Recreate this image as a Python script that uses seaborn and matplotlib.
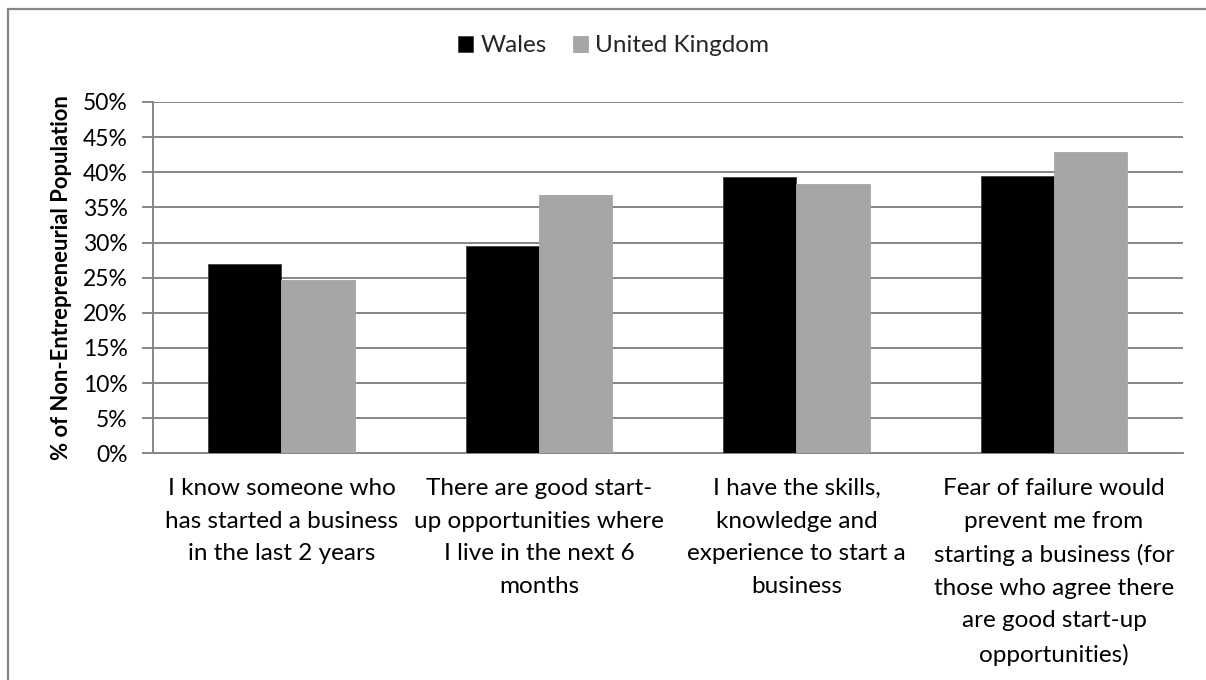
import matplotlib
matplotlib.use("Agg")
import matplotlib.pyplot as plt
from matplotlib.patches import Rectangle
from matplotlib.ticker import PercentFormatter
import seaborn as sns
import pandas as pd

# Survey categories and the share of the non-entrepreneurial population (%)
categories = [
    "I know someone who\nhas started a business\nin the last 2 years",
    "There are good start-\nup opportunities where\nI live in the next 6\nmonths",
    "I have the skills,\nknowledge and\nexperience to start a\nbusiness",
    "Fear of failure would\nprevent me from\nstarting a business (for\nthose who agree there\nare good start-up\nopportunities)",
]
series = ["Wales", "United Kingdom"]
wales = [27.0, 29.5, 39.3, 39.4]
uk = [24.7, 36.7, 38.4, 42.9]
y_ticks = list(range(0, 55, 5))

df = pd.DataFrame({
    "category": categories * 2,
    "series": [series[0]] * 4 + [series[1]] * 4,
    "value": wales + uk,
})

sns.set_theme(style="white")
plt.rcParams["font.family"] = ["Lato", "DejaVu Sans"]

GRID = "#868686"
fig = plt.figure(figsize=(12.06, 6.8), dpi=100)
ax = fig.add_axes([152.7 / 1206, 1 - 453.3 / 680, 1030 / 1206, 351.3 / 680])

sns.barplot(
    data=df, x="category", y="value", hue="series", order=categories,
    hue_order=series, palette={"Wales": "#000000", "United Kingdom": "#A6A6A6"},
    width=0.57, gap=0, ax=ax, legend=True, zorder=3,
)
for bar in ax.patches:
    bar.set_edgecolor("#404040" if bar.get_facecolor()[0] < 0.2 else "#A6A6A6")
    bar.set_linewidth(0.6)

ax.set_xlim(-0.5, 3.5)
ax.set_ylim(0, 50)
ax.set_yticks(y_ticks)
ax.yaxis.set_major_formatter(PercentFormatter(decimals=0))
ax.grid(axis="y", color=GRID, linewidth=1.4, zorder=0)
ax.set_axisbelow(True)

# category labels centred under each group, tick marks on the group boundaries
ax.set_xticks(range(len(categories)))
ax.set_xticklabels(categories, fontsize=17.5, color="#000000", linespacing=1.68, va="top")
ax.tick_params(axis="x", which="major", length=0, pad=18)
ax.set_xticks([i - 0.5 for i in range(len(categories) + 1)], minor=True)
ax.tick_params(axis="x", which="minor", length=8, width=1.4, color=GRID, direction="out")
ax.tick_params(axis="y", which="major", length=8, width=1.4, color=GRID, direction="out",
               labelsize=16.5, labelcolor="#000000", pad=10, left=True)

for side in ("top", "right"):
    ax.spines[side].set_visible(False)
for side in ("left", "bottom"):
    ax.spines[side].set_color(GRID)
    ax.spines[side].set_linewidth(1.4)

ax.set_xlabel("")
ax.set_ylabel("% of Non-Entrepreneurial Population", fontsize=15.8, fontweight="bold",
              color="#000000")
ax.yaxis.set_label_coords(-0.078, 0.5)

handles, labels = ax.get_legend_handles_labels()
ax.get_legend().remove()
fig.legend(handles, labels, loc="center", bbox_to_anchor=(0.509, 1 - 46 / 680), ncol=2,
           frameon=False, fontsize=17.5, handlelength=0.6, handleheight=0.6,
           handletextpad=0.3, columnspacing=1.1, borderaxespad=0)

# outer chart frame
fig.patches.append(Rectangle((8 / 1206, -0.05), 1.1, 1.05 - 9 / 680, transform=fig.transFigure,
                             fill=False, edgecolor=GRID, linewidth=1.6, zorder=10))

fig.savefig("out.png", dpi=100)
